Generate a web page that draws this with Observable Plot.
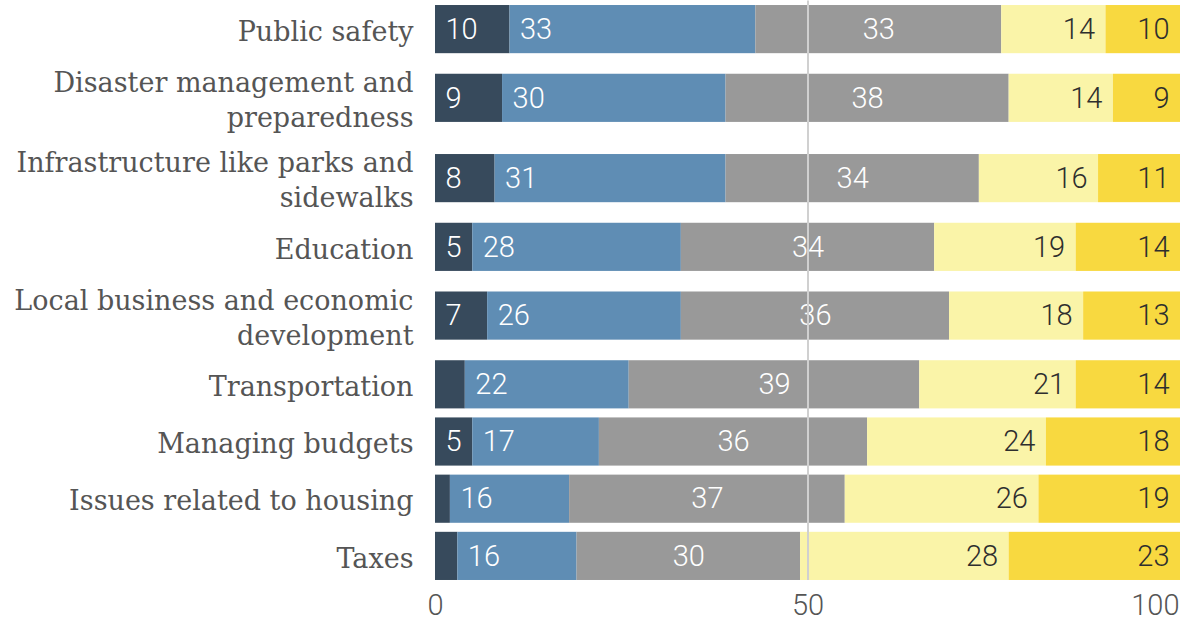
<!DOCTYPE html>
<html><head><meta charset="utf-8">
<script src="https://cdn.jsdelivr.net/npm/d3@7"></script>
<script src="https://cdn.jsdelivr.net/npm/@observablehq/plot@0.6"></script>
<style>body{margin:0;background:#fff}#chart svg{display:block}</style>
</head><body><div id="chart"></div>
<script>
// ---- data ----
const categories = [
  "Public safety",
  "Disaster management and\npreparedness",
  "Infrastructure like parks and\nsidewalks",
  "Education",
  "Local business and economic\ndevelopment",
  "Transportation",
  "Managing budgets",
  "Issues related to housing",
  "Taxes"
];
const seriesNames = ["Segment 1", "Segment 2", "Segment 3", "Segment 4", "Segment 5"];
const seg1 = [10, 9, 8, 5, 7, 4, 5, 2, 3];
const seg2 = [33, 30, 31, 28, 26, 22, 17, 16, 16];
const seg3 = [33, 38, 34, 34, 36, 39, 36, 37, 30];
const seg4 = [14, 14, 16, 19, 18, 21, 24, 26, 28];
const seg5 = [10, 9, 11, 14, 13, 14, 18, 19, 23];
const xTicks = [0, 50, 100];
const colors = ["#374a5c", "#5f8db4", "#999999", "#faf4a8", "#f8d940"];

// ---- layout derived from label line counts ----
const series = [seg1, seg2, seg3, seg4, seg5];
const ROW1 = 1, ROW2 = 80 / 57, BAR = 48 / 57;
let acc = 0;
const rows = categories.map((c, i) => {
  const h = c.includes("\n") ? ROW2 : ROW1;
  const center = acc + h / 2;
  acc += h;
  return {cat: c, i, center, y1: center - BAR / 2, y2: center + BAR / 2};
});
const total = acc;

const segs = [];
rows.forEach(r => {
  let x = 0;
  series.forEach((s, j) => {
    const v = s[r.i];
    segs.push({cat: r.cat, series: seriesNames[j], j, value: v, x1: x, x2: x + v,
               xm: x + v / 2, y: r.center, y1: r.y1, y2: r.y2});
    x += v;
  });
});

const numFont = "Roboto, 'Open Sans', sans-serif";
const numStyle = {fontFamily: numFont, fontSize: 29, fontWeight: 300, lineAnchor: "middle"};

const chart = Plot.plot({
  width: 1192,
  height: 625,
  marginLeft: 435,
  marginRight: 12,
  marginTop: 0,
  marginBottom: 41,
  style: {background: "#fff"},
  x: {domain: [0, 100], axis: null},
  y: {domain: [0, total], range: [0.5, 584.5], axis: null},
  color: {domain: seriesNames, range: colors},
  marks: [
    Plot.rect(segs, {x1: "x1", x2: "x2", y1: "y1", y2: "y2", fill: "series"}),
    Plot.text(segs.filter(d => d.j < 2 && d.value >= 5), {
      x: "x1", y: "y", text: d => String(d.value), textAnchor: "start", dx: 10,
      fill: "#fff", ...numStyle
    }),
    Plot.text(segs.filter(d => d.j === 2 && d.value >= 5), {
      x: "xm", y: "y", text: d => String(d.value), textAnchor: "middle",
      fill: "#fff", ...numStyle
    }),
    Plot.text(segs.filter(d => d.j > 2 && d.value >= 5), {
      x: "x2", y: "y", text: d => String(d.value), textAnchor: "end", dx: -11,
      fill: "#2e2e2e", ...numStyle
    }),
    Plot.ruleX([50], {y1: 0, y2: rows[rows.length - 1].y2, stroke: "#d0d0d0", strokeWidth: 2}),
    Plot.text(rows, {
      x: () => 0, y: "center", text: "cat", textAnchor: "end", dx: -22,
      lineAnchor: "middle", lineHeight: 1.3,
      fontFamily: "'DejaVu Serif', serif", fontSize: 27, fill: "#555",
    }),
    Plot.axisX(xTicks.slice(0, 2), {tickSize: 0, tickPadding: 10, fontSize: 29, fontFamily: numFont, fontWeight: 300, fill: "#555", textAnchor: "middle"}),
    Plot.axisX(xTicks.slice(2), {tickSize: 0, tickPadding: 10, fontSize: 29, fontFamily: numFont, fontWeight: 300, fill: "#555", textAnchor: "end", dx: -1})
  ]
});
document.getElementById("chart").appendChild(chart);
</script>
</body></html>
